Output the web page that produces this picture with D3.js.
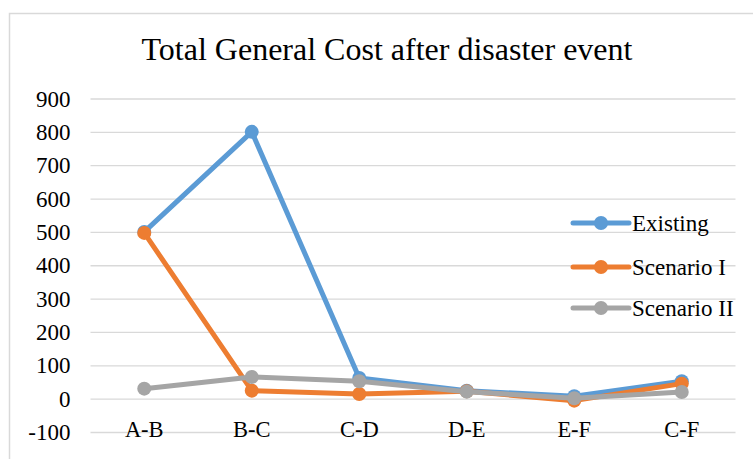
<!DOCTYPE html>
<html><head><meta charset="utf-8">
<script src="https://cdn.jsdelivr.net/npm/d3@7"></script>
<style>body{margin:0;background:#fff}svg{display:block}</style>
</head><body>
<script>
const categories = ["A-B","B-C","C-D","D-E","E-F","C-F"];
const existing   = [500, 800, 62, 24, 7, 52];
const scenario1  = [497, 24, 14, 22, -6, 45];
const scenario2  = [30, 65, 52, 21, 1, 20];
const seriesNames = ["Existing","Scenario I","Scenario II"];
const seriesColors = ["#5B9BD5","#ED7D31","#A5A5A5"];
const yTicks = [-100,0,100,200,300,400,500,600,700,800,900];
const title = "Total General Cost after disaster event";

const W = 753, H = 459;
const svg = d3.select("body").append("svg").attr("width", W).attr("height", H);
svg.append("rect").attr("width", W).attr("height", H).attr("fill", "#fff");
svg.append("rect").attr("x", 9.5).attr("y", 13.5).attr("width", 760).attr("height", 470)
  .attr("fill", "none").attr("stroke", "#d9d9d9").attr("stroke-width", 1.5);

const font = "'Liberation Serif','Times New Roman',serif";
const x = d3.scaleBand().domain(categories).range([90.5, 735.5]);
const y = d3.scaleLinear().domain([-100, 900]).range([432, 98.5]);

svg.append("text").attr("x", 387).attr("y", 60).attr("text-anchor", "middle")
  .attr("font-family", font).attr("font-size", 32).attr("fill", "#000").text(title);

const yAxis = svg.append("g").attr("transform", "translate(90.5,0)")
  .call(d3.axisLeft(y).tickValues(yTicks).tickSize(-645).tickFormat(d => String(d)).tickPadding(20));
yAxis.select(".domain").remove();
yAxis.selectAll("line").attr("stroke", "#d9d9d9").attr("stroke-width", 1.3);
yAxis.selectAll("text").attr("font-family", font).attr("font-size", 23).attr("fill", "#000").attr("dy", "0.33em");

const xAxis = svg.append("g").attr("transform", `translate(0,${y(0)})`)
  .call(d3.axisBottom(x).tickSize(0).tickPadding(0));
xAxis.select(".domain").remove();
xAxis.selectAll("text").attr("font-family", font).attr("font-size", 22.5).attr("fill", "#000")
  .attr("y", 0).attr("dy", "38px");

const data = [existing, scenario1, scenario2];
const line = d3.line().x((d, i) => x(categories[i]) + x.bandwidth() / 2).y(d => y(d));
data.forEach((vals, s) => {
  const g = svg.append("g");
  g.append("path").datum(vals).attr("d", line).attr("fill", "none")
    .attr("stroke", seriesColors[s]).attr("stroke-width", 5).attr("stroke-linejoin", "round");
  g.selectAll("circle").data(vals).join("circle")
    .attr("cx", (d, i) => x(categories[i]) + x.bandwidth() / 2).attr("cy", d => y(d))
    .attr("r", 7).attr("fill", seriesColors[s]);
});

const legY = [223, 267, 308];
seriesNames.forEach((n, s) => {
  const g = svg.append("g");
  g.append("rect").attr("x", 572).attr("y", legY[s] - 5).attr("width", 60).attr("height", 10).attr("fill", "#fff");
  g.append("line").attr("x1", 573).attr("x2", 629).attr("y1", legY[s]).attr("y2", legY[s])
    .attr("stroke", seriesColors[s]).attr("stroke-width", 5).attr("stroke-linecap", "round");
  g.append("circle").attr("cx", 601).attr("cy", legY[s]).attr("r", 7).attr("fill", seriesColors[s]);
  g.append("text").attr("x", 632).attr("y", legY[s]).attr("dy", "0.33em")
    .attr("font-family", font).attr("font-size", 23).attr("fill", "#000").text(n);
});
</script>
</body></html>
